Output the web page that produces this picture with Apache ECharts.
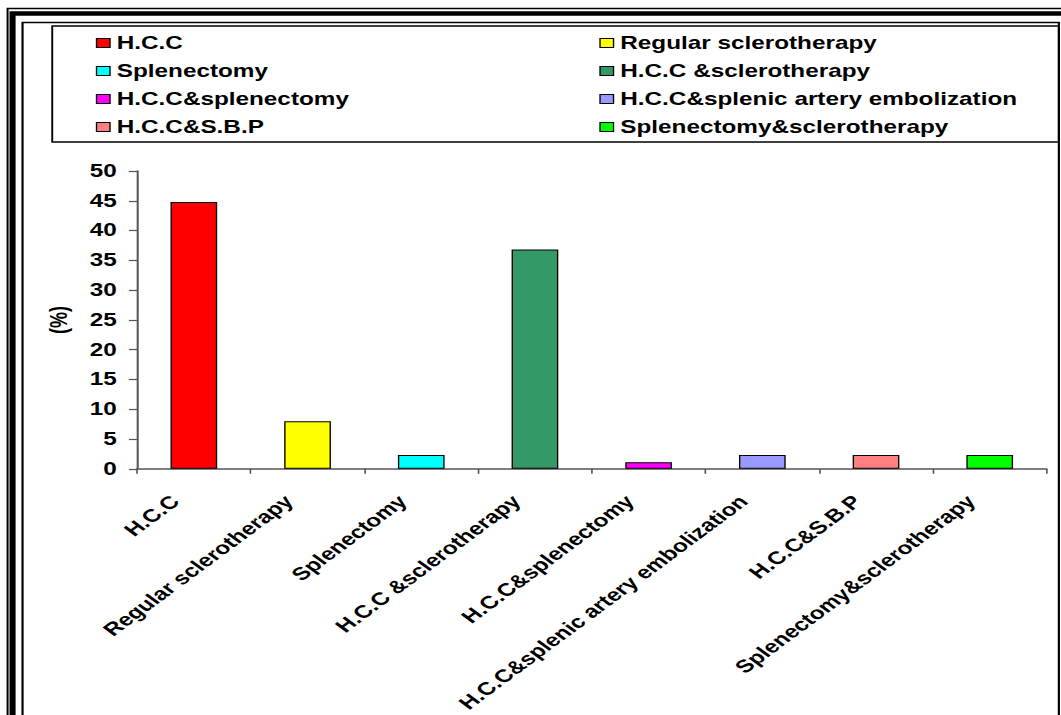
<!DOCTYPE html>
<html>
<head>
<meta charset="utf-8">
<script src="https://cdn.jsdelivr.net/npm/echarts@6/dist/echarts.min.js"></script>
<style>
  html, body { margin: 0; padding: 0; background: #fff; overflow: hidden; }
  #wrap { width: 1061px; height: 715px; overflow: hidden; position: relative; }
  /* the chart is laid out on a narrower canvas and widened to the page */
  #chart { width: 786px; height: 715px; transform-origin: 0 0; transform: scaleX(1.3499); }
</style>
</head>
<body>
<div id="wrap"><div id="chart"></div></div>
<script>
// Groups and the share of patients (%) in each
const categories = [
  'H.C.C',
  'Regular sclerotherapy',
  'Splenectomy',
  'H.C.C &sclerotherapy',
  'H.C.C&splenectomy',
  'H.C.C&splenic artery embolization',
  'H.C.C&S.B.P',
  'Splenectomy&sclerotherapy'
];
const percents = [44.8, 8.0, 2.3, 36.8, 1.1, 2.3, 2.3, 2.3];
const barColors = ['#FF0000', '#FFFF00', '#00FFFF', '#339966', '#FF00FF', '#9999FF', '#FF8080', '#00FF00'];
const yTicks = { min: 0, max: 50, step: 5 };

const FONT = '"Liberation Sans", Arial, sans-serif';
const W = 786;

// one stacked series per group so every group gets its own legend entry
const series = categories.map((name, i) => ({
  name: name,
  type: 'bar',
  stack: 'all',
  barWidth: 34.6,
  data: categories.map((c, j) => (j === i ? percents[i] : '-')),
  itemStyle: { color: barColors[i], borderColor: '#000', borderWidth: 1 }
}));

const legendText = { fontFamily: FONT, fontWeight: 'bold', fontSize: 18, color: '#000', lineHeight: 18 };
const legendBase = {
  orient: 'vertical', top: 34, padding: 0, itemGap: 10,
  itemWidth: 10, itemHeight: 9, icon: 'rect', selectedMode: false,
  textStyle: legendText,
  itemStyle: { borderColor: '#000', borderWidth: 1 }
};

const chart = echarts.init(document.getElementById('chart'), null, { renderer: 'svg', width: W, height: 715 });

chart.setOption({
  animation: false,
  backgroundColor: '#fff',
  legend: [
    Object.assign({ left: 71, data: categories.filter((c, i) => i % 2 === 0) }, legendBase),
    Object.assign({ left: 444, data: categories.filter((c, i) => i % 2 === 1) }, legendBase)
  ],
  grid: { left: 101.5, right: W - 775.3, top: 171, bottom: 715 - 471, containLabel: false },
  xAxis: {
    type: 'category',
    data: categories,
    axisLine: { lineStyle: { color: '#555', width: 1.5 } },
    axisTick: { show: true, length: 5, lineStyle: { color: '#555', width: 1.2 } },
    axisLabel: {
      interval: 0, rotate: 45, margin: 16, padding: [0, 19.5, 0, 0],
      fontFamily: FONT, fontWeight: 'bold', fontSize: 18, color: '#000'
    },
    splitLine: { show: false }
  },
  yAxis: {
    type: 'value',
    min: yTicks.min, max: yTicks.max, interval: yTicks.step,
    name: '(%)',
    nameLocation: 'middle',
    nameGap: 49,
    nameRotate: 90,
    nameTextStyle: { fontFamily: FONT, fontWeight: 'bold', fontSize: 18, color: '#000' },
    axisLine: { show: true, lineStyle: { color: '#555', width: 1.5 } },
    axisTick: { show: true, length: 6, lineStyle: { color: '#555', width: 1.2 } },
    axisLabel: { margin: 15, fontFamily: FONT, fontWeight: 'bold', fontSize: 18, color: '#000' },
    splitLine: { show: false }
  },
  graphic: [
    // double frame around the figure
    { type: 'rect', silent: true, shape: { x: 5.6, y: 8.5, width: W + 40, height: 760 },
      style: { fill: 'none', stroke: '#000', lineWidth: 1.5 } },
    { type: 'rect', silent: true, shape: { x: 9.3, y: 13.5, width: W + 40, height: 760 },
      style: { fill: 'none', stroke: '#000', lineWidth: 4.5 } },
    { type: 'rect', silent: true, shape: { x: 16.7, y: 22.5, width: 784.4 - 16.7, height: 760 },
      style: { fill: 'none', stroke: '#000', lineWidth: 1.6 } },
    // box around the legend
    { type: 'rect', silent: true, shape: { x: 38.7, y: 26, width: 784.4 - 38.7, height: 116 },
      style: { fill: 'none', stroke: '#000', lineWidth: 1.4 } }
  ],
  series: series
});
</script>
</body>
</html>
